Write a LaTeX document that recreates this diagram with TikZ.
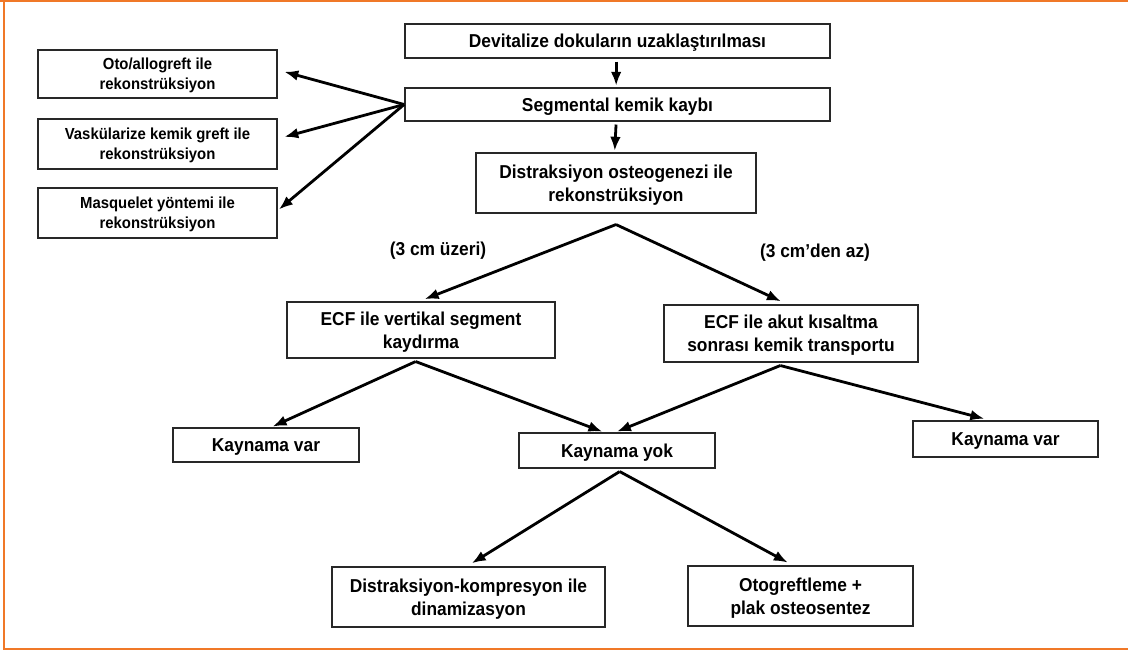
\documentclass[tikz,border=0pt]{standalone}
\usepackage{fontspec}
\setmainfont{Liberation Sans}[FakeStretch=0.93]
\usetikzlibrary{arrows.meta,calc}
\definecolor{frameorange}{RGB}{240,120,40}
\definecolor{boxline}{RGB}{40,40,40}
\tikzset{
  bx/.style 2 args={draw=boxline, line width=1.3pt, fill=white, align=center,
    minimum width=#1*0.75pt, minimum height=#2*0.75pt, inner sep=0pt,
    font=\fontsize{14}{17.5}\selectfont\bfseries, text height=10.2pt, text depth=0pt},
  lntwo/.style={text height=27.7pt},
  sbx/.style 2 args={bx={#1}{#2}, font=\fontsize{12}{15}\selectfont\bfseries,
    text height=23.8pt, text depth=0pt},
  lbl/.style={font=\fontsize{14}{17.5}\selectfont\bfseries, inner sep=0pt},
  arr/.style={line width=2.1pt, -{Latex[length=10.5pt,width=8pt]}},
  frame/.style={draw=frameorange, line width=1.8pt}
}
\begin{document}
\begin{tikzpicture}[x=0.75pt,y=-0.75pt]
\useasboundingbox (0,0) rectangle (1128,650);
% orange frame
\coordinate (f1) at (0,1);
\coordinate (f2) at (1128,1);
\coordinate (f3) at (4,0);
\coordinate (f4) at (4,649);
\coordinate (f5) at (1128,649);
\draw[frame] (f1) -- (f2);
\draw[frame] (f3) -- (f4) -- (f5);

% boxes
\node[bx={425}{34}] (dev) at (617.5,41) {Devitalize dokuların uzaklaştırılması};
\node[bx={425}{33}] (seg) at (617.5,104.5) {Segmental kemik kaybı};
\node[bx={280}{60}, lntwo] (dis) at (616,183) {Distraksiyon osteogenezi ile\\rekonstrüksiyon};
\node[sbx={239}{48}] (oto) at (157.5,74) {Oto/allogreft ile\\rekonstrüksiyon};
\node[sbx={239}{50}] (vas) at (157.5,144) {Vaskülarize kemik greft ile\\rekonstrüksiyon};
\node[sbx={239}{50}] (mas) at (157.5,213) {Masquelet yöntemi ile\\rekonstrüksiyon};
\node[bx={268}{56}, lntwo] (ecfv) at (421,330) {ECF ile vertikal segment\\kaydırma};
\node[bx={254}{57}, lntwo] (ecfa) at (791,333.5) {ECF ile akut kısaltma\\sonrası kemik transportu};
\node[bx={186}{34}] (kvl) at (266,445) {Kaynama var};
\node[bx={196}{35}] (kyok) at (617,450.5) {Kaynama yok};
\node[bx={185}{36}] (kvr) at (1005.5,439) {Kaynama var};
\node[bx={273}{60}, lntwo] (dk) at (468.5,597) {Distraksiyon-kompresyon ile\\dinamizasyon};
\node[bx={225}{60}, lntwo] (og) at (800.5,596) {Otogreftleme +\\plak osteosentez};

% labels
\node[lbl] (l1) at (438,251) {(3 cm üzeri)};
\node[lbl] (l2) at (815,253) {(3 cm’den az)};

% connectors
\draw[arr, shorten <=2pt, shorten >=1pt] ([xshift=-1pt]dev.south) -- ([xshift=-1pt]seg.north);
\draw[arr, shorten <=2pt, shorten >=1pt] ([xshift=-1pt]seg.south) -- ([xshift=-1pt]dis.north);
\draw[arr, shorten >=5pt] (seg.west) -- ([yshift=3pt]oto.east);
\draw[arr, shorten >=5pt] (seg.west) -- ([yshift=4pt]vas.east);
\draw[arr, shorten >=1pt] (seg.west) -- ([yshift=2pt]mas.east);

\coordinate (a1) at ([yshift=-8pt]dis.south);
\draw[arr, shorten >=4pt] (a1) -- ([xshift=-1pt]ecfv.north);
\draw[arr, shorten >=5pt] (a1) -- ([xshift=-3pt]ecfa.north);

\coordinate (a2) at ([xshift=-4pt,yshift=-2pt]ecfv.south);
\draw[arr, shorten >=1pt] (a2) -- ([xshift=4pt]kvl.north);
\draw[arr, shorten >=1pt] (a2) -- ([xshift=-10pt]kyok.north);

\coordinate (a3) at ([xshift=-8pt,yshift=-2pt]ecfa.south);
\draw[arr, shorten >=1pt] (a3) -- ([xshift=-1pt]kyok.north);
\draw[arr, shorten >=4pt] (a3) -- ([xshift=-12pt]kvr.north);

\coordinate (a4) at ([xshift=2pt,yshift=-2pt]kyok.south);
\draw[arr, shorten >=4pt] (a4) -- ([xshift=-1pt]dk.north);
\draw[arr, shorten >=4pt] (a4) -- ([xshift=-6pt]og.north);
\end{tikzpicture}
\end{document}
